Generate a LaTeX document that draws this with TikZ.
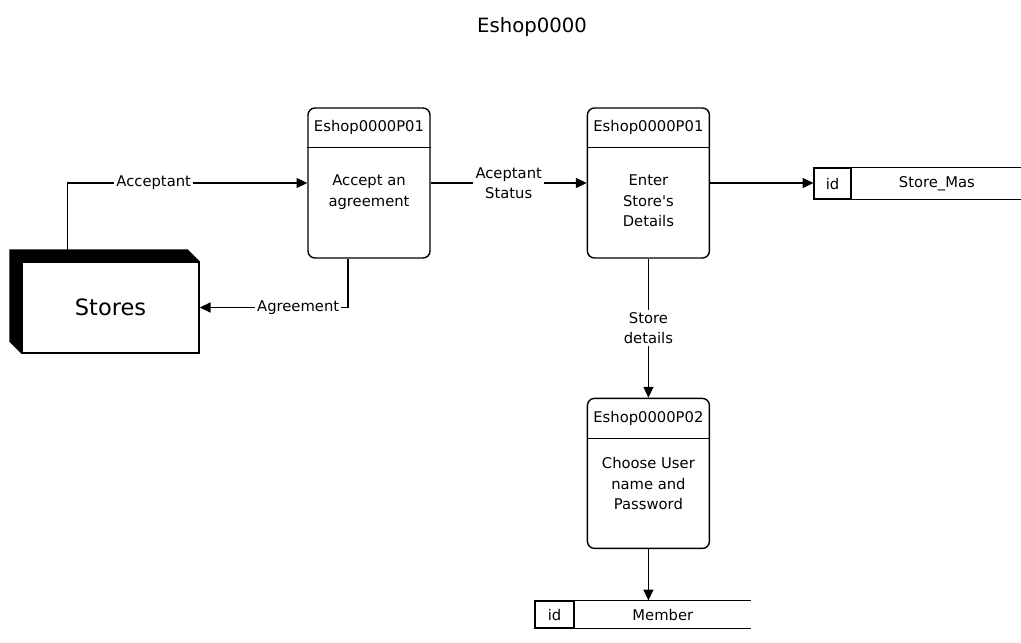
\documentclass[tikz,border=0pt]{standalone}
\usepackage{fontspec}
\setmainfont{DejaVu Sans}
\usetikzlibrary{positioning,calc,arrows.meta}

\begin{document}
\begin{tikzpicture}[
    font=\fontsize{10.5}{14.5}\selectfont,
    proc/.style={rectangle,rounded corners=5pt,draw,line width=1pt,minimum width=3.05cm,minimum height=3.75cm},
    head/.style={minimum height=1cm,anchor=north,inner sep=0pt},
    body/.style={align=center},
    entity/.style={rectangle,draw,line width=1pt,fill=white,minimum width=4.425cm,minimum height=2.275cm,font=\fontsize{16}{18}\selectfont},
    idcell/.style={rectangle,draw,line width=0.8pt,minimum width=0.925cm,minimum height=0.775cm},
    flow/.style={-{Triangle[length=2.7mm,width=2.5mm]},line width=0.75pt},
    lbl/.style={fill=white,inner sep=1.5pt,align=center},
    node distance=3.9cm]

\useasboundingbox (0,0) rectangle (25.525,-16.05);

\node[font=\fontsize{14}{16}\selectfont] (title) at (13.3,-0.675) {Eshop0000};

% processes
\node[proc] (p1) at (9.225,-4.575) {};
\node[proc] (p2) [right=of p1] {};
\node[proc] (p3) [below=3.475cm of p2] {};

\node[head] (p1h) at (p1.north) {Eshop0000P01};
\node[head] (p2h) at (p2.north) {Eshop0000P01};
\node[head] (p3h) at (p3.north) {Eshop0000P02};
\draw[line width=0.8pt] (p1h.south -| p1.west) -- (p1h.south -| p1.east);
\draw[line width=0.8pt] (p2h.south -| p2.west) -- (p2h.south -| p2.east);
\draw[line width=0.8pt] (p3h.south -| p3.west) -- (p3h.south -| p3.east);

\node[body,yshift=-0.225cm] (p1t) at (p1.center) {Accept an\\agreement};
\node[body,yshift=-0.45cm] (p2t) at (p2.center) {Enter\\Store\textquotesingle s\\Details};
\node[body,yshift=-0.26cm] (p3t) at (p3.center) {Choose User\\name and\\Password};

% external entity
\node[entity] (stores) at (2.7625,-7.6875) {Stores};
\fill ($(stores.north east)+(-0.3,0.3)$) -- ($(stores.north west)+(-0.3,0.3)$)
    -- ($(stores.south west)+(-0.3,0.3)$) -- (stores.south west)
    -- (stores.north west) -- (stores.north east) -- cycle;

% data stores
\node[idcell] (smid) at (20.8125,-4.5875) {id};
\node[minimum width=4.25cm,inner sep=0pt] (smname) [right=0cm of smid] {Store\_Mas};
\draw[line width=0.8pt] (smid.north east) -- (smid.north east -| smname.east);
\draw[line width=0.8pt] (smid.south east) -- (smid.south east -| smname.east);

\node[idcell,minimum width=0.975cm,minimum height=0.675cm] (memid) at (13.8625,-15.3625) {id};
\node[minimum width=4.4cm,inner sep=0pt] (memname) [right=0cm of memid] {Member};
\draw[line width=0.8pt] (memid.north east) -- (memid.north east -| memname.east);
\draw[line width=0.8pt] (memid.south east) -- (memid.south east -| memname.east);

% flows
\draw[flow] ($(stores.north west)+(1.15,0)$) |- node[lbl,pos=0.68] {Acceptant} (p1.west);
\draw[flow] ($(p1.south)+(-0.525,0)$) |- node[lbl,pos=0.668] {Agreement} (stores.east);
\draw[flow] (p1) -- node[lbl] {Aceptant\\Status} (p2);
\draw[flow] (p2.east) -- (p2.east -| smid.west);
\draw[flow] (p2) -- node[lbl] {Store\\details} (p3);
\draw[flow] (p3) -- (p3.south |- memid.north);
\end{tikzpicture}
\end{document}
